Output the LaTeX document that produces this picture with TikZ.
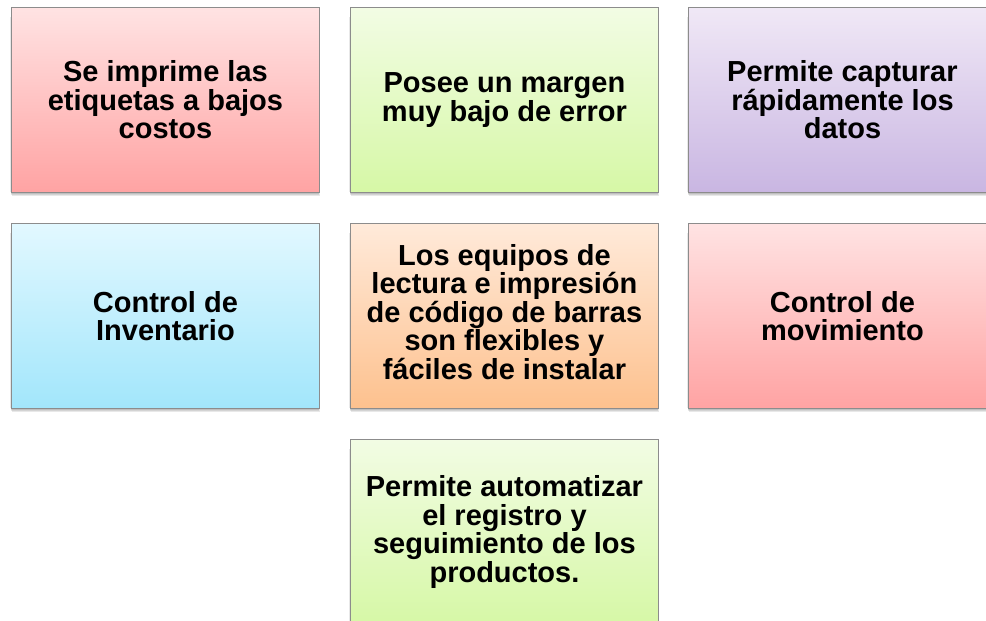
\documentclass[tikz,border=0pt]{standalone}
\usepackage{fontspec}
\setmainfont{Liberation Sans}
\definecolor{redT}{HTML}{FFE3E3}
\definecolor{redB}{HTML}{FFA3A3}
\definecolor{grnT}{HTML}{F2FCE4}
\definecolor{grnB}{HTML}{D6F8A6}
\definecolor{purT}{HTML}{F0E8F6}
\definecolor{purB}{HTML}{C9B6E2}
\definecolor{bluT}{HTML}{E2F8FF}
\definecolor{bluB}{HTML}{A2E6FB}
\definecolor{orgT}{HTML}{FFEADA}
\definecolor{orgB}{HTML}{FDC18E}
\definecolor{edge}{HTML}{8C8C8C}
\tikzset{
  cardtext/.style={align=center, font=\bfseries\fontsize{29}{28.5}\selectfont, text=black},
  card/.style={draw=edge, line width=0.9pt, minimum width=308pt, minimum height=185pt,
    inner sep=0pt, cardtext, anchor=north west},
  redcard/.style={card, top color=redT, bottom color=redB},
  grncard/.style={card, top color=grnT, bottom color=grnB},
  purcard/.style={card, top color=purT, bottom color=purB},
  blucard/.style={card, top color=bluT, bottom color=bluB},
  orgcard/.style={card, top color=orgT, bottom color=orgB},
  shade1/.style={fill=black, fill opacity=0.09, draw=none}
}
\newcommand{\cardshadow}[2]{%
  \foreach \d in {1,2,3,4,5}{
    \fill[shade1] (#1+\d*0.3-1, -#2-185-\d*0.9+1) rectangle (#1+308+\d*0.3-1, -#2-10);
  }}
\begin{document}
\begin{tikzpicture}[x=1pt,y=1pt]
\useasboundingbox (0,0) rectangle (986,-621);
\clip (0,0) rectangle (986,-621);
\fill[white] (0,0) rectangle (986,-621);
% shadows
\cardshadow{11}{7}
\cardshadow{350}{7}
\cardshadow{688}{7}
\cardshadow{11}{223}
\cardshadow{350}{223}
\cardshadow{688}{223}
\cardshadow{350}{439}
% cards
\node[redcard] (a) at (11,-7) {Se imprime las\\etiquetas a bajos\\costos};
\node[grncard] (b) at (350,-7) {Posee un margen\\muy bajo de error};
\node[purcard] (c) at (688,-7) {Permite capturar\\rápidamente los\\datos};
\node[blucard] (d) at (11,-223) {Control de\\Inventario};
\node[orgcard] (e) at (350,-223) {};
\node[cardtext] (et) at ([yshift=4pt]e.center) {Los equipos de\\lectura e impresión\\de código de barras\\son flexibles y\\fáciles de instalar};
\node[redcard] (f) at (688,-223) {Control de\\movimiento};
\node[grncard] (g) at (350,-439) {Permite automatizar\\el registro y\\seguimiento de los\\productos.};
\end{tikzpicture}
\end{document}
